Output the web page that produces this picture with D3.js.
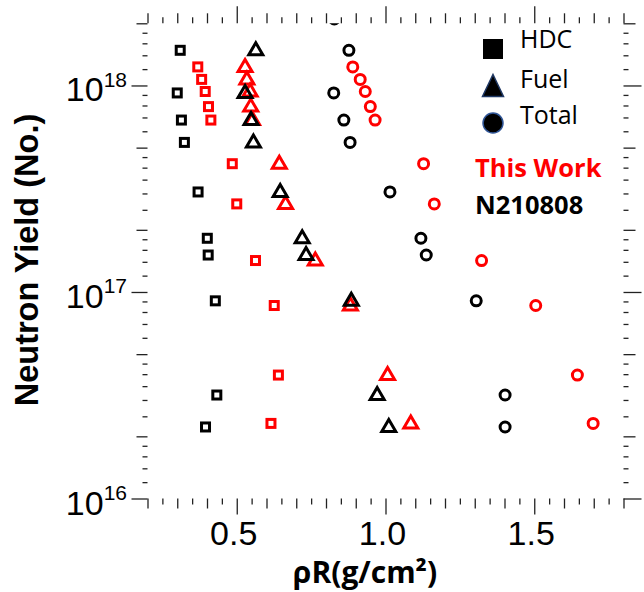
<!DOCTYPE html>
<meta charset="utf-8">
<script src="https://d3js.org/d3.v7.min.js"></script>
<style>
  body { margin: 0; background: #fff; }
</style>
<div id="my_dataviz"></div>
<script>

// N210808 (black): neutron yield and the rhoR of HDC / fuel / total
// (first point sits at the top edge, only the total circle shows)
var n210808Yield = [2.1e18, 1.48e18, 9.2e17, 6.8e17, 5.3e17, 3.05e17, 1.82e17, 1.51e17, 9.06e16, 3.17e16, 2.22e16];
var n210808HDC   = [null, 0.310, 0.300, 0.314, 0.324, 0.370, 0.401, 0.404, 0.428, 0.433, 0.395];
var n210808Fuel  = [null, 0.564, 0.528, 0.548, 0.556, 0.646, 0.720, 0.733, 0.885, 0.972, 1.011];
var n210808Total = [0.828, 0.877, 0.826, 0.860, 0.881, 1.015, 1.119, 1.137, 1.305, 1.402, 1.402];

// This Work (red)
var thisWorkYield = [1.23e18, 1.07e18, 9.35e17, 7.9e17, 6.8e17, 4.18e17, 2.67e17, 1.42e17, 8.6e16, 3.96e16, 2.31e16];
var thisWorkHDC   = [0.369, 0.382, 0.394, 0.405, 0.413, 0.485, 0.500, 0.563, 0.626, 0.640, 0.615];
var thisWorkFuel  = [0.528, 0.534, 0.545, 0.547, 0.553, 0.643, 0.664, 0.764, 0.882, 1.007, 1.085];
var thisWorkTotal = [0.890, 0.915, 0.932, 0.949, 0.965, 1.128, 1.164, 1.323, 1.505, 1.645, 1.698];

// axis ticks
var xLabelTicks = [0.5, 1.0, 1.5];
var yMajorTicks = [1e16, 1e17, 1e18];
var yMidMantissa = [2, 5];
var yMinorMantissa = [1.2, 1.4, 1.6, 1.8, 2.5, 3, 3.5, 4, 4.5, 6, 7, 8, 9];

var legendSymbols = ["HDC", "Fuel", "Total"];
var legendSeries = [{name: "This Work", color: "#ff0000"}, {name: "N210808", color: "#000000"}];

// dimensions of the svg and the plot frame
var width = 644, height = 592;
var plot = {left: 147.5, right: 623.5, top: 23.3, bottom: 498.5};

var svg = d3.select("#my_dataviz")
  .append("svg")
    .attr("width", width)
    .attr("height", height);

var x = d3.scaleLinear().domain([0.2, 1.8]).range([plot.left, plot.right]);
var y = d3.scaleLog().domain([1e16, 2e18]).range([plot.bottom, plot.top]);

// ---- ticks ----
var xAll = d3.range(0, 33).map(function(i) { return +(0.2 + i * 0.05).toFixed(2); });
var xMajor = xAll.filter(function(v) { return Math.round(v * 100) % 50 === 0; });
var xTens = xAll.filter(function(v) { var k = Math.round(v * 100); return k % 10 === 0 && k % 50 !== 0; });
var xFives = xAll.filter(function(v) { return Math.round(v * 100) % 10 !== 0; });

var yMid = [], yMinor = [];
[1e16, 1e17, 1e18].forEach(function(d) {
  yMidMantissa.forEach(function(m) { if (m * d <= 2e18 * 1.0001) yMid.push(m * d); });
  yMinorMantissa.forEach(function(m) { if (m * d < 2e18) yMinor.push(m * d); });
});

function tickAxis(axis, values, size, transform) {
  svg.append("g")
    .attr("transform", transform)
    .call(axis.tickValues(values).tickSize(size).tickSizeOuter(0).tickFormat(""))
    .call(function(g) {
      g.select(".domain").remove();
      g.selectAll("line").attr("stroke", "#222").attr("stroke-width", 1.3);
    });
}

var atBottom = "translate(0," + plot.bottom + ")";
var atTop = "translate(0," + plot.top + ")";
var atLeft = "translate(" + plot.left + ",0)";
var atRight = "translate(" + plot.right + ",0)";

tickAxis(d3.axisBottom(x), xFives, 6, atBottom);
tickAxis(d3.axisBottom(x), xTens, 10, atBottom);
tickAxis(d3.axisBottom(x), xMajor, 16, atBottom);
tickAxis(d3.axisTop(x), xFives, 6, atTop);
tickAxis(d3.axisTop(x), xTens, 10, atTop);
tickAxis(d3.axisTop(x), xMajor, 17, atTop);

tickAxis(d3.axisLeft(y), yMinor, 5, atLeft);
tickAxis(d3.axisLeft(y), yMid, 11, atLeft);
tickAxis(d3.axisLeft(y), yMajorTicks, 16, atLeft);
tickAxis(d3.axisRight(y), yMinor, 5, atRight);
tickAxis(d3.axisRight(y), yMid, 12, atRight);
tickAxis(d3.axisRight(y), yMajorTicks, 18, atRight);

// x tick labels
svg.append("g").selectAll("text")
  .data(xLabelTicks)
  .enter().append("text")
    .attr("x", function(d) { return x(d) - 3; })
    .attr("y", 545)
    .attr("text-anchor", "middle")
    .style("font-family", "'Liberation Sans', Arial, sans-serif")
    .style("font-size", "34px")
    .text(function(d) { return d3.format(".1f")(d); });

// y tick labels, 10^n
var yLab = svg.append("g").selectAll("text")
  .data(yMajorTicks)
  .enter().append("text")
    .attr("x", 127)
    .attr("y", function(d) { return y(d) + 16; })
    .attr("text-anchor", "end")
    .style("font-family", "'Liberation Sans', Arial, sans-serif");
yLab.append("tspan").style("font-size", "34px").text("10");
yLab.append("tspan").style("font-size", "21px").attr("dy", -14.5)
  .text(function(d) { return Math.round(Math.log10(d)); });

// axis titles
svg.append("text")
  .attr("transform", "translate(38,260) rotate(-90)")
  .attr("text-anchor", "middle")
  .style("font-family", "'Liberation Sans', Arial, sans-serif")
  .style("font-weight", "bold")
  .style("font-size", "32.5px")
  .text("Neutron Yield (No.)");

svg.append("text")
  .attr("x", 365)
  .attr("y", 583)
  .attr("text-anchor", "middle")
  .style("font-family", "'Open Sans', sans-serif")
  .style("font-weight", "bold")
  .style("font-size", "30px")
  .text("ρR(g/cm²)");

// ---- data marks ----
svg.append("clipPath").attr("id", "clip")
  .append("rect")
    .attr("x", plot.left).attr("y", plot.top)
    .attr("width", plot.right - plot.left).attr("height", plot.bottom - plot.top);

var marks = svg.append("g").attr("clip-path", "url(#clip)");

function pairs(xs, ys) {
  return xs.map(function(v, i) { return {x: v, y: ys[i]}; })
    .filter(function(d) { return d.x != null; });
}

var triPath = "M0,-7.5L7,4.5L-7,4.5Z";

function drawSeries(color, yields, hdc, fuel, total) {
  marks.selectAll(null)
    .data(pairs(hdc, yields))
    .enter().append("rect")
      .attr("x", function(d) { return x(d.x) - 4; })
      .attr("y", function(d) { return y(d.y) - 4; })
      .attr("width", 8)
      .attr("height", 8)
      .attr("fill", "none")
      .attr("stroke", color)
      .attr("stroke-width", 3);

  marks.selectAll(null)
    .data(pairs(fuel, yields))
    .enter().append("path")
      .attr("d", triPath)
      .attr("transform", function(d) { return "translate(" + x(d.x) + "," + y(d.y) + ")"; })
      .attr("fill", "none")
      .attr("stroke", color)
      .attr("stroke-width", 3);

  marks.selectAll(null)
    .data(pairs(total, yields))
    .enter().append("circle")
      .attr("cx", function(d) { return x(d.x); })
      .attr("cy", function(d) { return y(d.y); })
      .attr("r", 5)
      .attr("fill", "none")
      .attr("stroke", color)
      .attr("stroke-width", 3);
}

drawSeries("#ff0000", thisWorkYield, thisWorkHDC, thisWorkFuel, thisWorkTotal);
drawSeries("#000000", n210808Yield, n210808HDC, n210808Fuel, n210808Total);

// ---- legend ----
var legend = svg.append("g");
var symY = [49, 85.5, 123];
legend.append("rect")
  .attr("x", 483).attr("y", symY[0] - 10).attr("width", 20).attr("height", 20)
  .attr("fill", "#000");
legend.append("path")
  .attr("d", "M493," + (symY[1] - 11) + "L503.5," + (symY[1] + 11) + "L482.5," + (symY[1] + 11) + "Z")
  .attr("fill", "#000").attr("stroke", "#1f3864").attr("stroke-width", 1.5);
legend.append("circle")
  .attr("cx", 493).attr("cy", symY[2]).attr("r", 10)
  .attr("fill", "#000").attr("stroke", "#2f5597").attr("stroke-width", 1.5);

legend.selectAll(".sym")
  .data(legendSymbols)
  .enter().append("text")
    .attr("x", 520)
    .attr("y", function(d, i) { return [48.3, 88.3, 124][i]; })
    .style("font-family", "'Open Sans', sans-serif")
    .style("font-size", "25px")
    .text(function(d) { return d; });

legend.selectAll(".ser")
  .data(legendSeries)
  .enter().append("text")
    .attr("x", 475)
    .attr("y", function(d, i) { return [176.5, 213.5][i]; })
    .attr("fill", function(d) { return d.color; })
    .style("font-family", "'Open Sans', sans-serif")
    .style("font-weight", "bold")
    .style("font-size", "25.5px")
    .text(function(d) { return d.name; });

</script>
